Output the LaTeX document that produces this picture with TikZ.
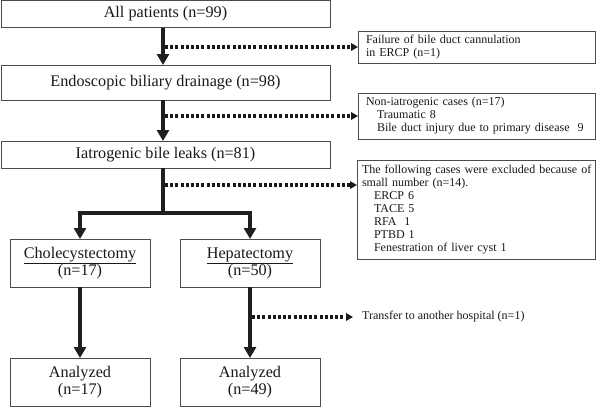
\documentclass[tikz,border=0pt]{standalone}
\usepackage{fontspec}
\setmainfont{Liberation Serif}
\usetikzlibrary{arrows.meta}
\begin{document}
\begin{tikzpicture}[x=1pt,y=-1pt,
  box/.style={draw=black!70, line width=0.9pt, inner sep=0pt, outer sep=0pt, fill=white, text=black!90},
  bigtxt/.style={font=\fontsize{16.2}{17}\selectfont, align=center},
  smalltxt/.style={font=\fontsize{12}{13}\selectfont, align=left},
  mainarrow/.style={line width=3.8pt, black!88, -{Triangle[width=12pt,length=11pt]}},
  dotarrow/.style={line width=3.2pt, black!90, dash pattern=on 3pt off 2.2pt, -{Triangle[width=7.5pt,length=7pt]}},
]
\useasboundingbox (0,0) rectangle (600,408);
\fill[white] (0,0) rectangle (600,408);

% main column
\node[box,bigtxt,minimum width=329pt,minimum height=27pt] (b1) at (165.5,14) {All patients (n=99)};
\node[box,bigtxt,minimum width=329pt,minimum height=35pt] (b2) at (165.5,82.5) {Endoscopic biliary drainage (n=98)};
\node[box,bigtxt,minimum width=329pt,minimum height=27pt] (b3) at (165.5,154.5) {Iatrogenic bile leaks (n=81)};

% side boxes
\node[box,smalltxt,text width=221pt,inner xsep=8pt,minimum height=32pt,anchor=west] (f1) at (358,47)
  {\raisebox{-2pt}{\mbox{Failure of bile duct cannulation}}\\\raisebox{-2pt}{in ERCP (n=1)}};
\node[box,smalltxt,text width=221pt,inner xsep=8pt,minimum height=46pt,anchor=west] (f2) at (358,116)
  {Non-iatrogenic cases (n=17)\\\hspace*{11pt}Traumatic 8\\\hspace*{11pt}\mbox{Bile duct injury due to primary disease\ \ 9}};
\node[box,smalltxt,text width=228pt,inner xsep=5pt,minimum height=99pt,anchor=west] (f3) at (357,209.5)
  {\mbox{The following cases were excluded because of}\\small number (n=14).\\\hspace*{12pt}ERCP 6\\\hspace*{12pt}TACE 5\\\hspace*{12pt}RFA\ \ 1\\\hspace*{12pt}PTBD 1\\\hspace*{12pt}Fenestration of liver cyst 1};

% branches
\node[box,bigtxt,minimum width=140pt,minimum height=48pt] (ch) at (80,263) {\underline{Cholecystectomy}\\(n=17)};
\node[box,bigtxt,minimum width=140pt,minimum height=48pt] (hp) at (250,263) {\underline{Hepatectomy}\\(n=50)};
\node[box,bigtxt,minimum width=140pt,minimum height=48pt] (a1) at (80,382) {Analyzed\\(n=17)};
\node[box,bigtxt,minimum width=140pt,minimum height=48pt] (a2) at (250,382) {Analyzed\\(n=49)};

\node[smalltxt,inner sep=0pt,anchor=west,text=black!90] (tr) at (362,317) {Transfer to another hospital (n=1)};

\coordinate (sp) at (163,0);
\coordinate (d3) at (163,185);
\coordinate (d4) at (250,317);

% main arrows
\draw[mainarrow] (b1.south -| sp) -- (b2.north -| sp);
\draw[mainarrow] (b2.south -| sp) -- (b3.north -| sp);
\draw[mainarrow] (b3.south -| sp) -- ++(0,45) -| (ch.north);
\draw[mainarrow] (b3.south -| sp) -- ++(0,45) -| (hp.north);
\draw[mainarrow] (ch.south) -- (a1.north);
\draw[mainarrow] (hp.south) -- (a2.north);

% dotted arrows
\draw[dotarrow] ([xshift=2pt]sp |- f1.west) -- (f1.west);
\draw[dotarrow] ([xshift=2pt]sp |- f2.west) -- (f2.west);
\draw[dotarrow] ([xshift=2pt]d3) -- (d3 -| f3.west);
\draw[dotarrow] ([xshift=2pt]d4) -- ([xshift=-9pt]d4 -| tr.west);
\end{tikzpicture}
\end{document}
